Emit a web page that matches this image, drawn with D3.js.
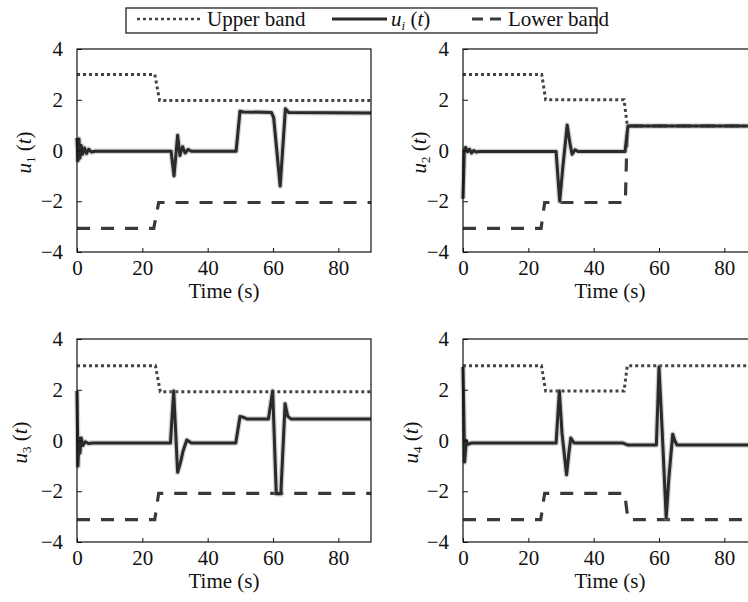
<!DOCTYPE html>
<html>
  <head>
    <meta charset="utf-8">
    <title>u_i(t) with upper and lower bands</title>
    <script src="https://d3js.org/d3.v7.min.js"></script>
    <style>
      body { margin: 0; background: #fff; }
      svg text { font-family: "Liberation Serif", "Times New Roman", Times, "DejaVu Serif", serif; fill: #111; }
    </style>
  </head>
<body>
  <script type="text/javascript">
  /*
    Data: [time (s), value]
  */
  var timeTicks = [0, 20, 40, 60, 80],
      valueTicks = [-4, -2, 0, 2, 4],
      legendLabels = ["Upper band", "u_i (t)", "Lower band"];

  var u1 = [[0, 0.5], [0.3, -0.4], [0.6, 0.45], [0.9, -0.3], [1.3, 0.2], [1.7, -0.15],
            [2.3, 0.1], [2.9, -0.12], [3.6, 0.05], [4.4, -0.06], [5.5, -0.03],
            [28.8, -0.03], [29.7, -1.0], [30.8, 0.6], [31.5, -0.2], [32.3, 0.15],
            [33.1, -0.1], [34, 0.04], [35, -0.03], [48.7, -0.03], [49.9, 1.55],
            [51, 1.52], [59.5, 1.5], [60.2, 1.3], [62.2, -1.4], [63.8, 1.65],
            [64.8, 1.5], [90, 1.48]];
  var upper1 = [[0, 3], [23.8, 3], [25.3, 1.97], [90, 1.97]],
      lower1 = [[0, -3.07], [23.5, -3.07], [25, -2.05], [90, -2.05]];

  var u2 = [[0, -1.9], [0.4, 0], [0.8, 0.12], [1.4, -0.05], [2.0, 0.05], [2.6, -0.1],
            [3.3, 0], [4, -0.06], [5, -0.04], [28.5, -0.04], [29.6, -2.0], [30.6, -0.6],
            [31.9, 1.0], [32.7, 0.3], [33.4, -0.15], [34.3, 0.03], [35.2, -0.04],
            [49.6, -0.04], [50.5, 0.97], [90, 0.97]];
  var upper2 = [[0, 3], [24.1, 3], [25.3, 2], [49.3, 2], [50.3, 0.97], [90, 0.97]],
      lower2 = [[0, -3.07], [23.9, -3.07], [25, -2.05], [49.7, -2.05], [50.3, 0.97], [90, 0.97]];

  var u3 = [[0, 1.95], [0.3, -1.0], [0.6, 0.1], [0.9, -0.5], [1.3, 0.1], [1.8, -0.2],
            [2.5, -0.05], [3.5, -0.12], [5, -0.1], [28.6, -0.1], [29.6, 1.95],
            [30.8, -1.25], [31.6, -0.9], [32.5, -0.4], [33.6, 0.02], [35, -0.1],
            [48.6, -0.1], [49.9, 0.95], [50.8, 0.92], [52, 0.85], [58.6, 0.85],
            [59.9, 1.95], [61, -2.1], [62.4, -2.1], [63.7, 1.45], [64.5, 0.95],
            [65.5, 0.85], [90, 0.85]];
  var upper3 = [[0, 2.95], [24, 2.95], [25.5, 1.92], [90, 1.92]],
      lower3 = [[0, -3.12], [23.8, -3.12], [25, -2.08], [90, -2.08]];

  var u4 = [[0, 2.9], [0.5, -0.85], [1, 0], [1.5, -0.15], [2.5, -0.1], [28.5, -0.1],
            [29.5, 1.95], [30.3, 0.3], [31.7, -1.35], [32.4, -0.5], [33, 0.1],
            [34, -0.1], [49, -0.1], [50.5, -0.18], [59.2, -0.18], [60, 2.9],
            [61, 0.3], [62.2, -3.05], [63, -1.5], [64.2, 0.25], [64.8, 0],
            [65.5, -0.18], [90, -0.18]];
  var upper4 = [[0, 2.95], [24, 2.95], [25.3, 1.95], [49.3, 1.95], [50.3, 2.95], [90, 2.95]],
      lower4 = [[0, -3.12], [23.8, -3.12], [25, -2.08], [49.5, -2.08], [50.5, -3.12], [90, -3.12]];

  /*
    Panel layout (pixels)
  */
  var panelWidth = 294,
      panelHeight = 203,
      fontSize = 21;
  var panels = [
    {sub: "1", u: u1, upper: upper1, lower: lower1, left: 77, top: 49, labelX: 31},
    {sub: "2", u: u2, upper: upper2, lower: lower2, left: 463, top: 49, labelX: 426},
    {sub: "3", u: u3, upper: upper3, lower: lower3, left: 77, top: 339, labelX: 27},
    {sub: "4", u: u4, upper: upper4, lower: lower4, left: 463, top: 339, labelX: 418}
  ];

  var styles = {
    upper: {stroke: "#444", width: 3, dash: "3,3"},
    lower: {stroke: "#3a3a3a", width: 3.2, dash: "13,11"},
    u: {stroke: "#2a2a2a", width: 3, dash: null}
  };

  var svg = d3.select("body")
    .append("svg")
      .attr("width", 748)
      .attr("height", 602);

  function drawPanel(p) {
    var x = d3.scaleLinear().domain([0, 90]).range([0, panelWidth]),
        y = d3.scaleLinear().domain([-4, 4]).range([panelHeight, 0]);

    var g = svg.append("g")
        .attr("transform", "translate(" + p.left + "," + p.top + ")");

    var line = d3.line()
        .x(function(d) { return x(d[0]); })
        .y(function(d) { return y(d[1]); });

    // bands first, signal on top
    ["upper", "lower"].forEach(function(k) {
      g.append("path")
        .datum(p[k])
        .attr("d", line)
        .attr("fill", "none")
        .attr("stroke", styles[k].stroke)
        .attr("stroke-width", styles[k].width)
        .attr("stroke-dasharray", styles[k].dash);
    });

    // soft halo to mimic the blurred print
    g.append("path")
      .datum(p.u)
      .attr("d", line)
      .attr("fill", "none")
      .attr("stroke", "#999")
      .attr("stroke-opacity", 0.45)
      .attr("stroke-width", 5.5)
      .attr("stroke-linejoin", "round");
    g.append("path")
      .datum(p.u)
      .attr("d", line)
      .attr("fill", "none")
      .attr("stroke", styles.u.stroke)
      .attr("stroke-width", styles.u.width)
      .attr("stroke-linejoin", "round");

    // axes
    var xAxis = g.append("g")
        .attr("transform", "translate(0," + panelHeight + ")")
        .call(d3.axisBottom(x).tickValues(timeTicks)
              .tickSizeInner(-4).tickSizeOuter(0).tickPadding(8));
    var yAxis = g.append("g")
        .call(d3.axisLeft(y).tickValues(valueTicks)
              .tickSizeInner(-5).tickSizeOuter(0).tickPadding(14));
    [xAxis, yAxis].forEach(function(a) {
      a.attr("font-family", null).attr("font-size", null);
      a.select(".domain").remove();
      a.selectAll("line").attr("stroke", "#111");
      a.selectAll("text").style("font-size", fontSize + "px");
    });

    // frame
    g.append("rect")
      .attr("width", panelWidth)
      .attr("height", panelHeight)
      .attr("fill", "none")
      .attr("stroke", "#111")
      .attr("stroke-width", 1.2);

    // axis titles
    g.append("text")
      .attr("x", panelWidth / 2)
      .attr("y", panelHeight + 46)
      .attr("text-anchor", "middle")
      .style("font-size", fontSize + "px")
      .text("Time (s)");

    var yl = svg.append("text")
      .attr("transform", "translate(" + p.labelX + "," + (p.top + panelHeight / 2 + 2) + ") rotate(-90)")
      .attr("text-anchor", "middle")
      .style("font-size", fontSize + "px");
    yl.append("tspan").style("font-style", "italic").text("u");
    yl.append("tspan").style("font-size", "13px").attr("dy", 4).text(p.sub);
    yl.append("tspan").attr("dy", -4).text(" (");
    yl.append("tspan").style("font-style", "italic").text("t");
    yl.append("tspan").text(")");
  }

  panels.forEach(drawPanel);

  /*
    Legend
  */
  var legend = svg.append("g");
  legend.append("rect")
    .attr("x", 126).attr("y", 8)
    .attr("width", 471).attr("height", 25)
    .attr("fill", "#fff")
    .attr("stroke", "#222")
    .attr("stroke-width", 1.3);

  var items = [
    {key: "upper", x1: 137, x2: 201, tx: 207},
    {key: "u", x1: 332, x2: 387, tx: 391},
    {key: "lower", x1: 472, x2: 508, tx: 508}
  ];
  items.forEach(function(it, i) {
    legend.append("line")
      .attr("x1", it.x1).attr("x2", it.x2)
      .attr("y1", 19).attr("y2", 19)
      .attr("stroke", styles[it.key].stroke)
      .attr("stroke-width", it.key === "upper" ? 2.4 : styles[it.key].width)
      .attr("stroke-dasharray", it.key === "lower" ? "11,7" : styles[it.key].dash);
    var t = legend.append("text")
      .attr("x", it.tx).attr("y", 26)
      .style("font-size", fontSize + "px");
    if (it.key === "u") {
      t.append("tspan").style("font-style", "italic").text("u");
      t.append("tspan").style("font-style", "italic").style("font-size", "13px").attr("dy", 4).text("i");
      t.append("tspan").attr("dy", -4).text(" (");
      t.append("tspan").style("font-style", "italic").text("t");
      t.append("tspan").text(")");
    } else {
      t.text(legendLabels[i]);
    }
  });
  </script>
</body>
</html>
